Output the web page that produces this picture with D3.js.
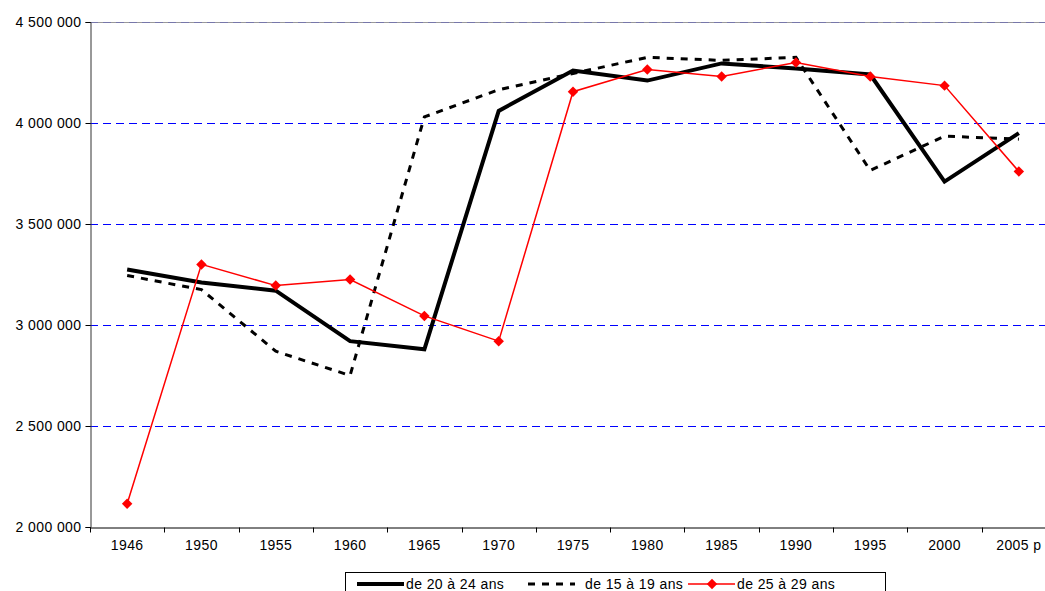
<!DOCTYPE html>
<html>
<head>
<meta charset="utf-8">
<script src="https://cdn.jsdelivr.net/npm/d3@7"></script>
<style>
body { margin: 0; background: #fff; }
text { font-family: "Liberation Sans", Arial, sans-serif; font-size: 14px; letter-spacing: 0.4px; fill: #000; }
</style>
</head>
<body>
<script>
var width = 1045, height = 591;

var years = ["1946","1950","1955","1960","1965","1970","1975","1980","1985","1990","1995","2000","2005 p"];
var yTicks = [2000000, 2500000, 3000000, 3500000, 4000000, 4500000];

var ages20_24 = [3275000,3210000,3170000,2920000,2880000,4060000,4260000,4210000,4295000,4270000,4240000,3710000,3950000];
var ages15_19 = [3245000,3175000,2870000,2750000,4030000,4165000,4245000,4325000,4310000,4325000,3765000,3935000,3920000];
var ages25_29 = [2115000,3300000,3195000,3225000,3045000,2920000,4155000,4265000,4230000,4300000,4230000,4185000,3760000];

var series = [
  {name: "de 20 à 24 ans", values: ages20_24, color: "#000", width: 4, dash: null, marker: false},
  {name: "de 15 à 19 ans", values: ages15_19, color: "#000", width: 3, dash: "7,7", marker: false},
  {name: "de 25 à 29 ans", values: ages25_29, color: "#ff0000", width: 1.5, dash: null, marker: true}
];

var padding = {top: 22, left: 90, bottom: 64, right: -11};

var svg = d3.select("body").append("svg")
  .attr("width", width)
  .attr("height", height);

var xScale = d3.scaleBand()
  .domain(years)
  .range([padding.left, width - padding.right]);

var yScale = d3.scaleLinear()
  .domain([2000000, 4500000])
  .range([height - padding.bottom, padding.top]);

var fmt = d3.formatLocale({decimal: ",", thousands: " ", grouping: [3], currency: ["", ""]}).format(",d");

// top border of plot area
svg.append("line")
  .attr("x1", padding.left).attr("x2", width)
  .attr("y1", yScale(4500000) + 0.5).attr("y2", yScale(4500000) + 0.5)
  .attr("stroke", "#999").attr("stroke-width", 1);

// grid
svg.append("g").selectAll("line")
  .data(yTicks.slice(1))
  .enter().append("line")
  .attr("x1", padding.left).attr("x2", width)
  .attr("y1", function(d){ return Math.round(yScale(d)) + 0.5; })
  .attr("y2", function(d){ return Math.round(yScale(d)) + 0.5; })
  .attr("stroke", function(d){ return d == 4500000 ? "#7777aa" : "#0000ff"; })
  .attr("stroke-width", 1)
  .attr("stroke-dasharray", "8,5");

// axes
var yAxis = d3.axisLeft(yScale).tickValues(yTicks).tickFormat(fmt).tickSize(5).tickPadding(4);
var gy = svg.append("g")
  .attr("transform", "translate(" + (padding.left + 0.5) + ",0)")
  .call(yAxis);
gy.select(".domain").attr("stroke", "#333");
gy.selectAll("text").style("font-size", "14px").attr("dy", "0.35em");

var xAxis = d3.axisBottom(xScale).tickSize(0).tickPadding(13);
var gx = svg.append("g")
  .attr("transform", "translate(0," + (yScale(2000000) + 0.5) + ")")
  .call(xAxis);
gx.select(".domain").attr("stroke", "#000");
gx.selectAll("text").style("font-size", "14px");

// band boundary ticks
gx.selectAll(".bt")
  .data(years)
  .enter().append("line")
  .attr("class", "bt")
  .attr("x1", function(d){ return Math.round(xScale(d)) + 0.5; })
  .attr("x2", function(d){ return Math.round(xScale(d)) + 0.5; })
  .attr("y1", 0).attr("y2", 5)
  .attr("stroke", "#000");

var linePath = d3.line()
  .x(function(d, i){ return xScale(years[i]) + xScale.bandwidth() / 2; })
  .y(function(d){ return yScale(d); });

var diamond = d3.symbol().type(d3.symbolDiamond2).size(70);

series.forEach(function(s){
  svg.append("path")
    .attr("d", linePath(s.values))
    .attr("fill", "none")
    .attr("stroke", s.color)
    .attr("stroke-width", s.width)
    .attr("stroke-dasharray", s.dash)
    .attr("stroke-linejoin", "miter");
  if (s.marker) {
    svg.append("g").selectAll("path")
      .data(s.values)
      .enter().append("path")
      .attr("d", diamond)
      .attr("transform", function(d, i){
        return "translate(" + (xScale(years[i]) + xScale.bandwidth() / 2) + "," + yScale(d) + ")";
      })
      .attr("fill", s.color);
  }
});

// legend
var legend = svg.append("g").attr("transform", "translate(345,572)");
legend.append("rect")
  .attr("x", 0.5).attr("y", 0.5)
  .attr("width", 540).attr("height", 30)
  .attr("fill", "#fff").attr("stroke", "#000");

var legX = [12, 183, 343];
series.forEach(function(s, i){
  var g = legend.append("g").attr("transform", "translate(" + legX[i] + ",0)");
  g.append("line")
    .attr("x1", 0).attr("x2", 47)
    .attr("y1", 12).attr("y2", 12)
    .attr("stroke", s.color)
    .attr("stroke-width", s.width)
    .attr("stroke-dasharray", s.dash);
  if (s.marker) {
    g.append("path").attr("d", diamond).attr("transform", "translate(24,12)").attr("fill", s.color);
  }
  g.append("text")
    .attr("x", i == 1 ? 57 : 49).attr("y", 17)
    .text(s.name);
});
</script>
</body>
</html>
